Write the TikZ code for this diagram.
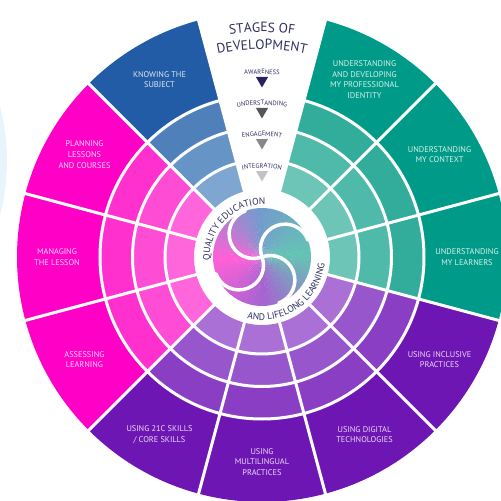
\documentclass[tikz,border=0pt]{standalone}
\usepackage{fontspec}
\setmainfont{PT Sans}
\usetikzlibrary{decorations.text,shapes.geometric}

\definecolor{blueD}{RGB}{35,92,166}
\definecolor{blueC}{RGB}{80,128,186}
\definecolor{blueB}{RGB}{103,148,198}
\definecolor{blueA}{RGB}{127,166,208}
\definecolor{pinkD}{RGB}{255,0,198}
\definecolor{pinkC}{RGB}{255,48,205}
\definecolor{pinkB}{RGB}{255,76,212}
\definecolor{pinkA}{RGB}{255,102,219}
\definecolor{purpleD}{RGB}{110,22,180}
\definecolor{purpleC}{RGB}{137,62,196}
\definecolor{purpleB}{RGB}{152,86,205}
\definecolor{purpleA}{RGB}{170,112,214}
\definecolor{tealD}{RGB}{0,155,136}
\definecolor{tealC}{RGB}{50,172,155}
\definecolor{tealB}{RGB}{80,186,170}
\definecolor{tealA}{RGB}{108,197,182}
\definecolor{swTeal}{RGB}{100,196,180}
\definecolor{swBlue}{RGB}{115,155,205}
\definecolor{swPink}{RGB}{255,95,215}
\definecolor{swPurple}{RGB}{165,100,210}
\definecolor{navy}{RGB}{45,45,98}
\definecolor{haze}{RGB}{231,244,252}
\definecolor{stageA}{RGB}{38,35,95}
\definecolor{stageB}{RGB}{85,85,90}
\definecolor{stageC}{RGB}{135,135,140}
\definecolor{stageD}{RGB}{195,195,198}

\def\ringpiece[#1](#2:#3:#4:#5){\fill[#1] (#2:#4) arc (#2:#3:#4) -- (#3:#5) arc (#3:#2:#5) -- cycle;}

\tikzset{
  gapline/.style={white, line width=3pt},
  arm/.style={white, line width=3.5pt, line cap=round},
  seclabel/.style={align=center, inner sep=0pt, text=white, text opacity=0.85,
    font=\fontsize{8.3}{10.6}\selectfont},
  stagetri/.style={regular polygon, regular polygon sides=3, shape border rotate=180,
    minimum size=14pt, inner sep=0pt},
  arctext/.style={decorate, decoration={text along path, text align=center,
    text color=navy, text={#1}}}
}

\begin{document}
\begin{tikzpicture}[x=1pt,y=1pt]
	%%%%% START %%%%%
	\useasboundingbox (-262,-244) rectangle (239,257);
	\clip (-262,-244) rectangle (239,257);
	
	\fill[haze] (-467,96) circle (212);
	
	% sectors and rings
	\foreach \a/\grp [evaluate=\a as \s using \a-15, evaluate=\a as \e using \a+15] in
	  {120/blue, 150/pink, 180/pink, 210/pink, 240/purple, 270/purple,
	   300/purple, 330/purple, 360/teal, 390/teal, 420/teal} {
		\ringpiece[fill=\grp D](\s:\e:162:245)
		\ringpiece[fill=\grp C](\s:\e:129.5:162)
		\ringpiece[fill=\grp B](\s:\e:97:129.5)
		\ringpiece[fill=\grp A](\s:\e:68:97)
	}
	\foreach \a in {105,135,...,435}
		\draw[gapline] (\a:66) -- (\a:247);
	\foreach \r in {97,129.5,162}
		\draw[gapline] (0,0) circle (\r);
	
	% swirl
	\foreach \ca/\cb [count=\q from 0] in {swTeal/swBlue, swBlue/swPink, swPink/swPurple, swPurple/swTeal}
		\foreach \i in {0,...,17} {
			\pgfmathsetmacro\mixp{\i*100/18}
			\pgfmathsetmacro\b{\q*90+\i*5}
			\fill[fill=\cb!\mixp!\ca] (0,0) -- (\b:49) arc (\b:\b+5.5:49) -- cycle;
		}
	\foreach \t in {20,110,200,290}
		\draw[arm] (0,0) arc (\t+180:\t:24.5);
	
	\path[arctext={|\fontsize{9.5}{10}\selectfont|QUALITY EDUCATION}] (205:52) arc (205:65:52);
	\path[arctext={|\fontsize{9.5}{10}\selectfont|AND LIFELONG LEARNING}] (235:63) arc (235:375:63);
	
	% labels
	\node[seclabel] (knowing) at (120:205) {KNOWING THE\\SUBJECT};
	\node[seclabel] (planning) at (150:205) {PLANNING\\LESSONS\\AND COURSES};
	\node[seclabel] (managing) at (180:205) {MANAGING\\THE LESSON};
	\node[seclabel] (assessing) at (210:205) {ASSESSING\\LEARNING};
	\node[seclabel] (skills) at (240:205) {USING 21C SKILLS\\/ CORE SKILLS};
	\node[seclabel] (multilingual) at (270:205) {USING\\MULTILINGUAL\\PRACTICES};
	\node[seclabel] (digital) at (300:205) {USING DIGITAL\\TECHNOLOGIES};
	\node[seclabel] (inclusive) at (330:205) {USING INCLUSIVE\\PRACTICES};
	\node[seclabel] (learners) at (0:205) {UNDERSTANDING\\MY LEARNERS};
	\node[seclabel] (context) at (30:205) {UNDERSTANDING\\MY CONTEXT};
	\node[seclabel] (identity) at (60:205) {UNDERSTANDING\\AND DEVELOPING\\MY PROFESSIONAL\\IDENTITY};
	
	% stages
	\path[arctext={|\fontsize{13.5}{13.5}\selectfont|STAGES OF}] (125:225) arc (125:55:225);
	\path[arctext={|\fontsize{13.5}{13.5}\selectfont|DEVELOPMENT}] (125:208) arc (125:55:208);
	
	\path[arctext={|\fontsize{6.5}{6.5}\selectfont|AWARENESS}] (110:183) arc (110:70:183);
	\path[arctext={|\fontsize{6.5}{6.5}\selectfont|UNDERSTANDING}] (110:152) arc (110:70:152);
	\path[arctext={|\fontsize{6.5}{6.5}\selectfont|ENGAGEMENT}] (110:121) arc (110:70:121);
	\path[arctext={|\fontsize{6.5}{6.5}\selectfont|INTEGRATION}] (110:89) arc (110:70:89);
	
	\node[stagetri, fill=stageA] (awareness) at (90:176.5) {};
	\node[stagetri, fill=stageB] (understanding) at (90:145.5) {};
	\node[stagetri, fill=stageC] (engagement) at (90:114.5) {};
	\node[stagetri, fill=stageD] (integration) at (90:82.5) {};
	
	%%%%% END %%%%%
\end{tikzpicture}
\end{document}
